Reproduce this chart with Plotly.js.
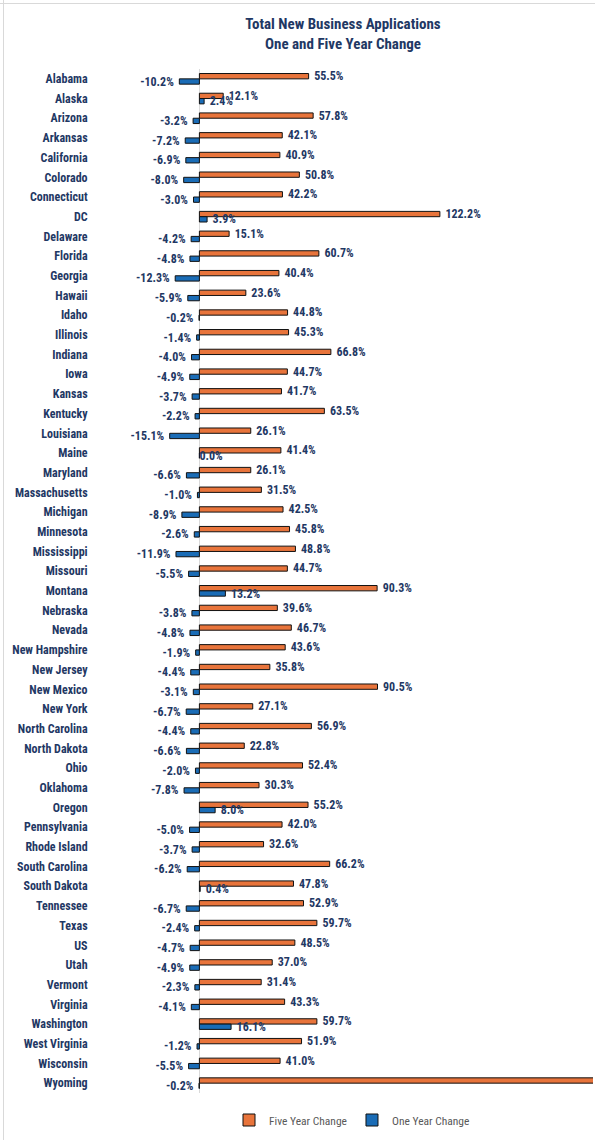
<!DOCTYPE html>
<html>
<head>
<meta charset="utf-8">
<script src="https://cdn.plot.ly/plotly-3.0.1.min.js"></script>
<style>
  html, body { margin: 0; padding: 0; background: #ffffff; }
  #chart { width: 595px; height: 1140px; }
</style>
</head>
<body>
<div id="chart"></div>
<script>
// ---- Data ----
const states = ["Alabama","Alaska","Arizona","Arkansas","California","Colorado","Connecticut","DC","Delaware","Florida","Georgia","Hawaii","Idaho","Illinois","Indiana","Iowa","Kansas","Kentucky","Louisiana","Maine","Maryland","Massachusetts","Michigan","Minnesota","Mississippi","Missouri","Montana","Nebraska","Nevada","New Hampshire","New Jersey","New Mexico","New York","North Carolina","North Dakota","Ohio","Oklahoma","Oregon","Pennsylvania","Rhode Island","South Carolina","South Dakota","Tennessee","Texas","US","Utah","Vermont","Virginia","Washington","West Virginia","Wisconsin","Wyoming"];

const fiveYearChange = [55.5,12.1,57.8,42.1,40.9,50.8,42.2,122.2,15.1,60.7,40.4,23.6,44.8,45.3,66.8,44.7,41.7,63.5,26.1,41.4,26.1,31.5,42.5,45.8,48.8,44.7,90.3,39.6,46.7,43.6,35.8,90.5,27.1,56.9,22.8,52.4,30.3,55.2,42.0,32.6,66.2,47.8,52.9,59.7,48.5,37.0,31.4,43.3,59.7,51.9,41.0,230.0];

const oneYearChange = [-10.2,2.4,-3.2,-7.2,-6.9,-8.0,-3.0,3.9,-4.2,-4.8,-12.3,-5.9,-0.2,-1.4,-4.0,-4.9,-3.7,-2.2,-15.1,0.0,-6.6,-1.0,-8.9,-2.6,-11.9,-5.5,13.2,-3.8,-4.8,-1.9,-4.4,-3.1,-6.7,-4.4,-6.6,-2.0,-7.8,8.0,-5.0,-3.7,-6.2,0.4,-6.7,-2.4,-4.7,-4.9,-2.3,-4.1,16.1,-1.2,-5.5,-0.2];

const seriesNames = ["Five Year Change", "One Year Change"];
const xRange = [-50, 200];

// ---- Styling ----
const W = 595, H = 1140;
const M = {l: 101, r: 2, t: 69, b: 47};
const navy = "#1F3864";
const font = "'Liberation Sans Narrow', 'Arial Narrow', 'Roboto Condensed', 'Liberation Sans', Arial, sans-serif";
const PAD = "\u00A0\u00A0";

function labels(vals) {
  return vals.map(v => {
    if (v > xRange[1] || v < xRange[0]) return "";
    const s = v.toFixed(1) + "%";
    return v > 0 ? PAD + s : s + PAD;
  });
}

const common = {
  type: "bar",
  orientation: "h",
  y: states,
  textposition: "outside",
  constraintext: "none",
  cliponaxis: true,
  textfont: {family: font, size: 12, color: navy, weight: "bold"},
  hoverinfo: "skip"
};

const traces = [
  Object.assign({}, common, {
    name: seriesNames[0],
    x: fiveYearChange,
    text: labels(fiveYearChange),
    marker: {color: "#E8743B", line: {color: "#111111", width: 1}}
  }),
  Object.assign({}, common, {
    name: seriesNames[1],
    x: oneYearChange,
    text: labels(oneYearChange),
    marker: {color: "#1A6CB6", line: {color: "#111111", width: 1}}
  })
];

const pw = W - M.l - M.r, ph = H - M.t - M.b;
const px2x = p => (p - M.l) / pw;
const px2y = p => 1 - (p - M.t) / ph;

const layout = {
  width: W, height: H,
  margin: M,
  paper_bgcolor: "#ffffff",
  plot_bgcolor: "#ffffff",
  barmode: "group",
  bargap: 0.46,
  bargroupgap: 0,
  showlegend: true,
  title: {
    text: "<b>Total New Business Applications<br>One and Five Year Change</b>",
    font: {family: font, size: 15, color: navy},
    x: 343 / W, xanchor: "center", xref: "container",
    y: 1 - 29 / H, yanchor: "top", yref: "container"
  },
  xaxis: {
    range: xRange,
    showgrid: false,
    showticklabels: false,
    zeroline: true,
    zerolinecolor: "#D9D9D9",
    zerolinewidth: 1,
    showline: false,
    ticks: "",
    fixedrange: true
  },
  yaxis: {
    autorange: "reversed",
    showgrid: false,
    showline: false,
    zeroline: false,
    ticks: "outside",
    ticklen: 10,
    tickcolor: "rgba(0,0,0,0)",
    tickfont: {family: font, size: 12, color: navy, weight: "bold"},
    fixedrange: true
  },
  legend: {
    orientation: "h",
    x: px2x(352), xanchor: "center",
    y: px2y(1120), yanchor: "middle",
    font: {family: font, size: 11.5, color: "#595959"},
    traceorder: "normal",
    itemwidth: 30
  },
  shapes: [
    {type: "line", xref: "paper", yref: "paper", x0: px2x(0), x1: px2x(W), y0: px2y(3.5), y1: px2y(3.5), line: {color: "#D9D9D9", width: 1}},
    {type: "line", xref: "paper", yref: "paper", x0: px2x(3.5), x1: px2x(3.5), y0: px2y(0), y1: px2y(H), line: {color: "#D9D9D9", width: 1}}
  ]
};

Plotly.newPlot("chart", traces, layout, {staticPlot: true, displayModeBar: false});
</script>
</body>
</html>
